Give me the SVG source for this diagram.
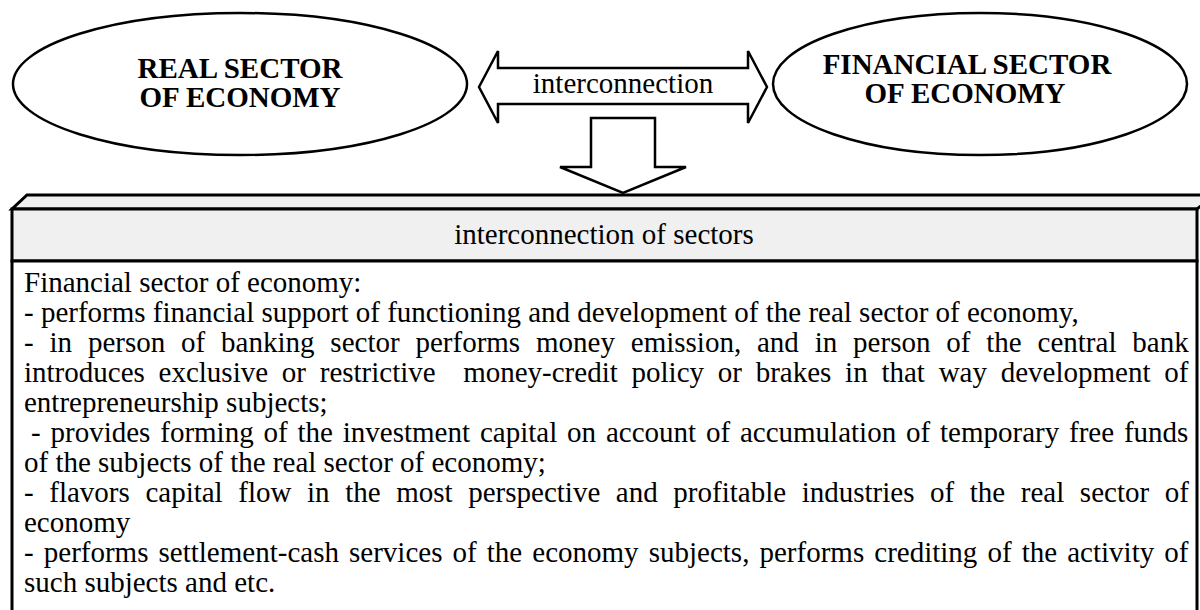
<svg xmlns="http://www.w3.org/2000/svg" width="1200" height="610" viewBox="0 0 1200 610">
<style>
  text { font-family: "Liberation Serif", "Times New Roman", serif; fill: #000; }
  .title { font-size: 29px; font-weight: bold; text-anchor: middle; }
  .lbl { font-size: 29px; text-anchor: middle; }
  .body { font-size: 29px; white-space: pre; }
  .oval { fill: #fff; stroke: #000; stroke-width: 2.5; }
  .arrow { fill: #fff; stroke: #000; stroke-width: 2.5; stroke-linejoin: miter; }
  .face { fill: #f0f0f0; stroke: #000; stroke-width: 3; }
  .panel { fill: #fff; stroke: #000; stroke-width: 3; }
</style>
<rect width="1200" height="610" fill="#fff"/>

<g id="real-sector">
  <ellipse class="oval" cx="240" cy="84" rx="227" ry="71"/>
  <text class="title" x="240" y="78">REAL SECTOR</text>
  <text class="title" x="240" y="107">OF ECONOMY</text>
</g>

<g id="financial-sector">
  <ellipse class="oval" cx="980" cy="84" rx="207" ry="71"/>
  <text class="title" x="967" y="74">FINANCIAL SECTOR</text>
  <text class="title" x="965" y="103">OF ECONOMY</text>
</g>

<g id="connectors">
  <polygon class="arrow" points="479,87 498,51 498,68 748,68 748,51 767,87 748,123 748,104 498,104 498,123"/>
  <text class="lbl" x="623" y="93">interconnection</text>
  <polygon class="arrow" points="591,118 655,118 655,167 686,167 623,193 560,167 591,167"/>
</g>

<g id="sectors-box">
  <polygon class="face" points="27,195 1215,195 1197,209 12,209"/>
  <rect class="face" x="12" y="209" width="1185" height="52"/>
  <rect class="panel" x="12" y="261" width="1185" height="400"/>
  <text class="lbl" x="604" y="244">interconnection of sectors</text>
  <text class="body" x="24" y="292">Financial sector of economy:</text>
  <text class="body" x="24" y="322">- performs financial support of functioning and development of the real sector of economy,</text>
  <text class="body" x="24" y="352" word-spacing="8.6">- in person of banking sector performs money emission, and in person of the central bank</text>
  <text class="body" x="24" y="382" word-spacing="6.5">introduces exclusive or restrictive  money-credit policy or brakes in that way development of</text>
  <text class="body" x="24" y="412">entrepreneurship subjects;</text>
  <text class="body" x="31" y="442" word-spacing="2.6">- provides forming of the investment capital on account of accumulation of temporary free funds</text>
  <text class="body" x="24" y="472">of the subjects of the real sector of economy;</text>
  <text class="body" x="24" y="502" word-spacing="8.35">- flavors capital flow in the most perspective and profitable industries of the real sector of</text>
  <text class="body" x="24" y="532">economy</text>
  <text class="body" x="24" y="562" word-spacing="2.85">- performs settlement-cash services of the economy subjects, performs crediting of the activity of</text>
  <text class="body" x="24" y="592">such subjects and etc.</text>
</g>
</svg>
